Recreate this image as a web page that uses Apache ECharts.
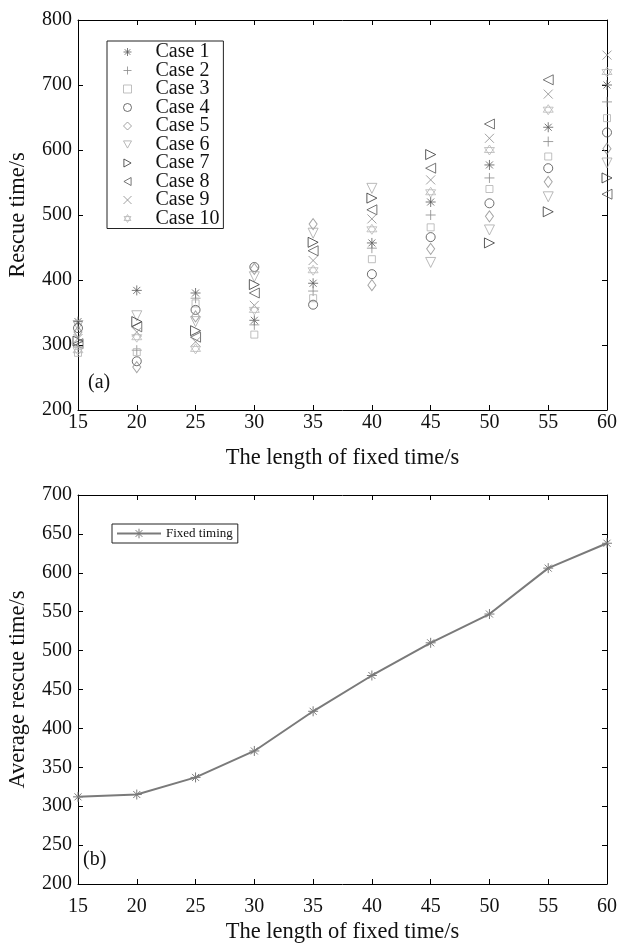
<!DOCTYPE html>
<html><head><meta charset="utf-8">
<script src="https://cdn.jsdelivr.net/npm/echarts@6/dist/echarts.min.js"></script>
<style>html,body{margin:0;padding:0;background:#fff}#c{width:621px;height:943px}</style>
</head><body><div id="c"></div>
<script>
var lengths = [15, 20, 25, 30, 35, 40, 45, 50, 55, 60];
var caseNames = ['Case 1','Case 2','Case 3','Case 4','Case 5','Case 6','Case 7','Case 8','Case 9','Case 10'];
var case1  = [336, 384, 380, 338, 395, 457, 520, 577, 635, 700];
var case2  = [297, 292, 372, 331, 383, 449, 500, 557, 613, 674];
var case3  = [288, 289, 364, 316, 372, 432, 481, 540, 590, 649];
var case4  = [326, 275, 354, 420, 362, 409, 466, 518, 572, 627];
var case5  = [320, 266, 344, 417, 486, 392, 448, 498, 551, 602];
var case6  = [330, 345, 336, 405, 472, 541, 427, 477, 528, 580];
var case7  = [306, 336, 322, 393, 458, 526, 593, 457, 505, 557];
var case8  = [302, 328, 312, 380, 445, 508, 572, 640, 708, 532];
var case9  = [310, 320, 305, 361, 430, 494, 554, 618, 686, 746];
var case10 = [292, 312, 294, 354, 415, 478, 535, 600, 662, 720];
var avgName = 'Fixed timing';
var avgRescue = [312, 315, 337, 371, 422, 468, 510, 547, 606, 638];

var cases = [case1, case2, case3, case4, case5, case6, case7, case8, case9, case10];
var F = 'Liberation Serif, Times New Roman, serif';
var AST = 'path://M0,5L10,5M5,0L5,10M1.5,1.5L8.5,8.5M1.5,8.5L8.5,1.5';
var PLUS = 'path://M0,5L10,5M5,0L5,10';
var CROSS = 'path://M0,0L10,10M0,10L10,0';
var TDOWN = 'path://M0,0L10,0L5,9Z';
var TRIGHT = 'path://M0,0L9,5L0,10Z';
var TLEFT = 'path://M9,0L0,5L9,10Z';
var STAR = 'path://M5,0L9.33,7.5L0.67,7.5ZM5,10L0.67,2.5L9.33,2.5Z';
var symbols = [AST, PLUS, 'rect', 'circle', 'diamond', TDOWN, TRIGHT, TLEFT, CROSS, STAR];
var sizes = [10, 10, 7, 9, [8,11], 10, 10, 10, 9, 10];
var colors = ['#5a5a5a','#8a8a8a','#b0b0b0','#4a4a4a','#8c8c8c','#a8a8a8','#333333','#555555','#8a8a8a','#b8b8b8'];

function axisBase(extra){
  var o = {
    axisLine:{show:true,onZero:false,lineStyle:{color:'#000',width:1}},
    axisTick:{show:true,inside:true,length:5,lineStyle:{color:'#000'}},
    splitLine:{show:false},
    axisLabel:{fontFamily:F,fontSize:20,color:'#111'}
  };
  for (var k in extra) o[k]=extra[k];
  return o;
}
var nameStyle = {fontFamily:F,fontSize:22.5,color:'#111'};

var series = [];
for (var i=0;i<10;i++){
  series.push({
    name: caseNames[i], type:'scatter', xAxisIndex:0, yAxisIndex:0,
    symbol: symbols[i], symbolSize: sizes[i],
    itemStyle:{color:'rgba(0,0,0,0)', borderColor: colors[i], borderWidth:1},
    data: lengths.map(function(x,j){return [x, cases[i][j]];})
  });
}
series.push({
  name: avgName, type:'line', xAxisIndex:2, yAxisIndex:2,
  symbol: AST, symbolSize: 10, showAllSymbol:true,
  lineStyle:{color:'#7a7a7a', width:2},
  itemStyle:{color:'rgba(0,0,0,0)', borderColor:'#7a7a7a', borderWidth:1},
  data: lengths.map(function(x,j){return [x, avgRescue[j]];})
});

var option = {
  animation:false,
  backgroundColor:'#fff',
  grid:[
    {left:78, right:14, top:20, height:390, containLabel:false, outerBoundsMode:'none'},
    {left:78, right:14, top:495, height:389, containLabel:false, outerBoundsMode:'none'}
  ],
  xAxis:[
    axisBase({type:'value', gridIndex:0, min:15, max:60, interval:5, position:'bottom',
      name:'The length of fixed time/s', nameLocation:'middle', nameGap:37, nameTextStyle:nameStyle,
      axisLabel:{fontFamily:F,fontSize:20,color:'#111',margin:3}}),
    axisBase({type:'value', gridIndex:0, min:15, max:60, interval:5, position:'top', axisLabel:{show:false}}),
    axisBase({type:'value', gridIndex:1, min:15, max:60, interval:5, position:'bottom',
      name:'The length of fixed time/s', nameLocation:'middle', nameGap:37, nameTextStyle:nameStyle,
      axisLabel:{fontFamily:F,fontSize:20,color:'#111',margin:13}}),
    axisBase({type:'value', gridIndex:1, min:15, max:60, interval:5, position:'top', axisLabel:{show:false}})
  ],
  yAxis:[
    axisBase({type:'value', gridIndex:0, min:200, max:800, interval:100, position:'left',
      name:'Rescue time/s', nameLocation:'middle', nameGap:48, nameTextStyle:nameStyle,
      axisLabel:{fontFamily:F,fontSize:20,color:'#111',margin:6}}),
    axisBase({type:'value', gridIndex:0, min:200, max:800, interval:100, position:'right', axisLabel:{show:false}}),
    axisBase({type:'value', gridIndex:1, min:200, max:700, interval:50, position:'left',
      name:'Average rescue time/s', nameLocation:'middle', nameGap:48, nameTextStyle:nameStyle,
      axisLabel:{fontFamily:F,fontSize:20,color:'#111',margin:6}}),
    axisBase({type:'value', gridIndex:1, min:200, max:700, interval:50, position:'right', axisLabel:{show:false}})
  ],
  legend:[
    {data:caseNames, orient:'vertical', left:107, top:41, padding:[1,4,0,16],
     itemGap:-1.5, itemWidth:8, itemHeight:8, borderColor:'#222', borderWidth:1,
     itemStyle:{borderWidth:1},
     textStyle:{fontFamily:F,fontSize:20,color:'#111',padding:[0,0,0,19]}},
    {data:[avgName], left:112, top:524, padding:[3,5,3,4], itemWidth:44, itemHeight:12,
     borderColor:'#222', borderWidth:1, itemStyle:{borderWidth:1},
     textStyle:{fontFamily:F,fontSize:13,color:'#111'}}
  ],
  graphic:[
    {type:'text', left:88, top:373, style:{text:'(a)', font:'20px '+F, fill:'#111'}},
    {type:'text', left:83, top:850, style:{text:'(b)', font:'20px '+F, fill:'#111'}}
  ],
  series: series
};
var chart = echarts.init(document.getElementById('c'));
chart.setOption(option);
</script>
</body></html>
